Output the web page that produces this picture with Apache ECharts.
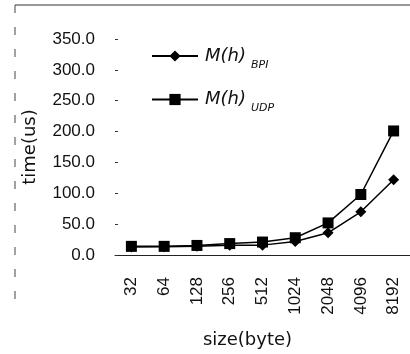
<!DOCTYPE html>
<html><head><meta charset="utf-8">
<script src="https://cdn.jsdelivr.net/npm/echarts@6/dist/echarts.min.js"></script>
<style>html,body{margin:0;padding:0;background:#fff}#c{width:410px;height:354px}</style>
</head><body><div id="c"></div>
<script>
var categories = ['32','64','128','256','512','1024','2048','4096','8192'];
var bpiValues = [13, 13.5, 14, 16, 16, 22, 36, 70, 122];
var udpValues = [14, 14, 15.5, 18.5, 21, 28, 52, 98, 201];
var yTicks = [0, 50, 100, 150, 200, 250, 300, 350];

var chart = echarts.init(document.getElementById('c'));
var rich = {
  m: {fontFamily: 'DejaVu Sans', fontStyle: 'italic', fontSize: 18, color: '#111'},
  s: {fontFamily: 'DejaVu Sans', fontStyle: 'italic', fontSize: 11, color: '#111', padding: [18, 0, 0, 5]}
};
chart.setOption({
  animation: false,
  backgroundColor: '#fff',
  grid: {left: 115, width: 295, top: 39, height: 226},
  legend: {
    orient: 'vertical', left: 146, top: 42, itemGap: 20, itemWidth: 46, itemHeight: 14,
    data: ['BPI', 'UDP'],
    formatter: function (n) { return '{m|M(h)}{s|' + n + '}'; },
    textStyle: {rich: rich, padding: [0, 0, 0, 2]}
  },
  xAxis: {
    type: 'category', data: categories, boundaryGap: true,
    name: 'size(byte)', nameLocation: 'middle', nameGap: 76,
    nameTextStyle: {fontFamily: 'DejaVu Sans', fontSize: 18, color: '#111', padding: [0, 30, 0, 0]},
    axisLine: {lineStyle: {color: '#222', width: 1}},
    axisTick: {show: false},
    axisLabel: {rotate: 90, margin: 22, fontFamily: 'Liberation Sans', fontSize: 17, color: '#111'}
  },
  yAxis: {
    type: 'value', min: 0, max: 350, interval: 50,
    name: 'time(us)', nameLocation: 'middle', nameGap: 76,
    nameTextStyle: {fontFamily: 'DejaVu Sans', fontSize: 18, color: '#111'},
    axisLine: {show: false},
    axisTick: {show: true, inside: true, length: 3, lineStyle: {color: '#333'}},
    splitLine: {show: false},
    axisLabel: {margin: 20, fontFamily: 'Liberation Sans', fontSize: 17, color: '#111',
      formatter: function (v) { return yTicks.indexOf(v) >= 0 ? v.toFixed(1) : ''; }}
  },
  graphic: [
    {type: 'line', shape: {x1: 15, y1: 5, x2: 410, y2: 5}, style: {stroke: '#333', lineWidth: 1}},
    {type: 'line', shape: {x1: 15, y1: 5, x2: 15, y2: 310}, style: {stroke: '#444', lineWidth: 1, lineDash: [8, 14]}}
  ],
  series: [
    {name: 'BPI', type: 'line', data: bpiValues, symbol: 'diamond', symbolSize: 11,
     lineStyle: {color: '#000', width: 1.5}, itemStyle: {color: '#000'}},
    {name: 'UDP', type: 'line', data: udpValues, symbol: 'rect', symbolSize: 11,
     lineStyle: {color: '#000', width: 1.5}, itemStyle: {color: '#000'}}
  ]
});
</script></body></html>
